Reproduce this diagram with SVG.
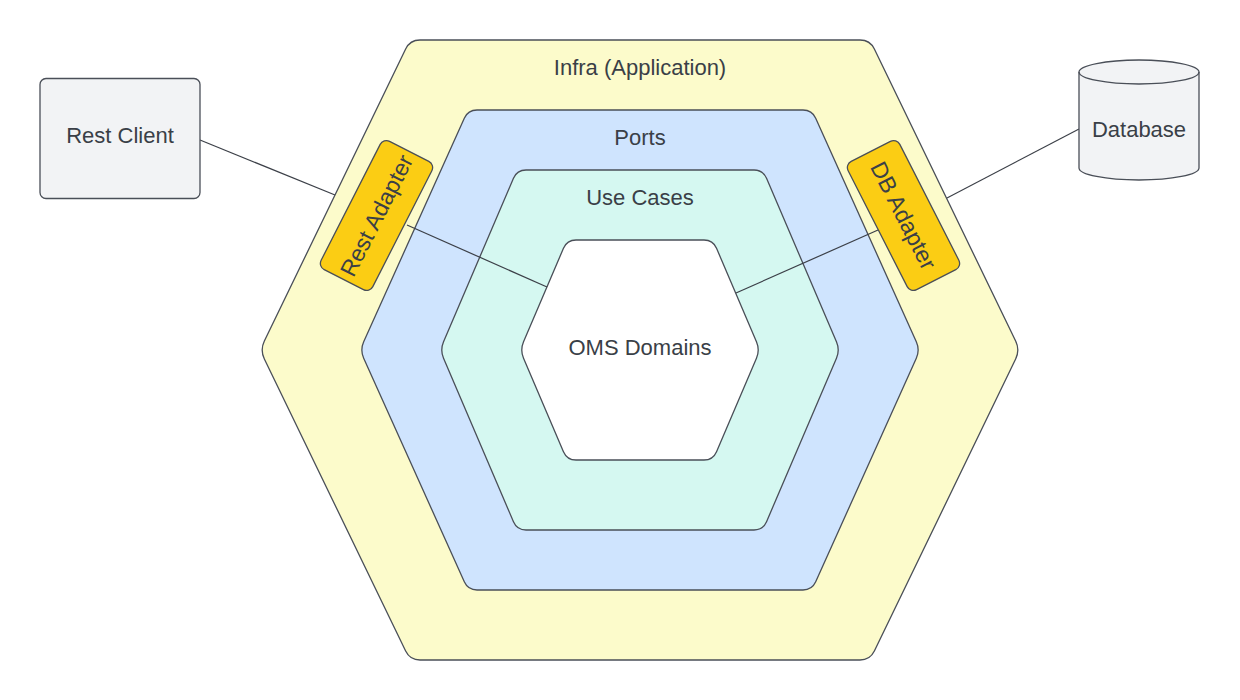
<svg xmlns="http://www.w3.org/2000/svg" width="1240" height="700" viewBox="0 0 1240 700">
<style>
.edge{fill:none;stroke:#3c4048;stroke-width:1.2}
.shape{stroke:#4a4f58;stroke-width:1.3}
.lbl{font-family:"Liberation Sans",Arial,sans-serif;font-size:22px;fill:#3a3f47;text-anchor:middle}
.alb{font-size:23px}
</style>
<rect width="1240" height="700" fill="#ffffff"/>
<g id="infra">
<path class="shape" fill="#fcfbcb" d="M 264.36,341 L 405.64,49 Q 410,40 420,40 L 860,40 Q 870,40 874.36,49 L 1015.64,341 Q 1020,350 1015.64,359 L 874.36,651 Q 870,660 860,660 L 420,660 Q 410,660 405.64,651 L 264.36,359 Q 260,350 264.36,341 Z"/>
<text class="lbl" x="640" y="75">Infra (Application)</text>
</g>
<g id="ports">
<path class="shape" fill="#cfe4fe" d="M 363.69,341.79 L 464.31,118.21 Q 468,110 477,110 L 803,110 Q 812,110 815.69,118.21 L 916.31,341.79 Q 920,350 916.31,358.21 L 815.69,581.79 Q 812,590 803,590 L 477,590 Q 468,590 464.31,581.79 L 363.69,358.21 Q 360,350 363.69,341.79 Z"/>
<text class="lbl" x="640" y="145">Ports</text>
</g>
<g id="usecases">
<path class="shape" fill="#d5f8f1" d="M 443.54,341.73 L 513.46,178.27 Q 517,170 526,170 L 754,170 Q 763,170 766.54,178.27 L 836.46,341.73 Q 840,350 836.46,358.27 L 766.54,521.73 Q 763,530 754,530 L 526,530 Q 517,530 513.46,521.73 L 443.54,358.27 Q 440,350 443.54,341.73 Z"/>
<text class="lbl" x="640" y="205">Use Cases</text>
</g>
<g id="oms">
<path class="shape" fill="#ffffff" d="M 523.54,341.72 L 563.46,248.28 Q 567,240 576,240 L 704,240 Q 713,240 716.54,248.28 L 756.46,341.72 Q 760,350 756.46,358.28 L 716.54,451.72 Q 713,460 704,460 L 576,460 Q 567,460 563.46,451.72 L 523.54,358.28 Q 520,350 523.54,341.72 Z"/>
<text class="lbl" x="640" y="355">OMS Domains</text>
</g>
<g id="connectors">
<line class="edge" x1="200" y1="140" x2="335" y2="195"/>
<line class="edge" x1="407" y1="225" x2="547" y2="287"/>
<line class="edge" x1="1079" y1="129" x2="947" y2="198"/>
<line class="edge" x1="878" y1="230" x2="736" y2="293"/>
</g>
<g id="rest-adapter" transform="translate(376.5,215.5) rotate(-63)">
<rect class="shape" fill="#fbcd14" x="-72" y="-29" width="144" height="58" rx="7"/>
<text class="lbl alb" x="0" y="8">Rest Adapter</text>
</g>
<g id="db-adapter" transform="translate(903.5,215.5) rotate(63)">
<rect class="shape" fill="#fbcd14" x="-72" y="-29" width="144" height="58" rx="7"/>
<text class="lbl alb" x="0" y="8">DB Adapter</text>
</g>
<g id="rest-client">
<rect class="shape" fill="#f2f3f5" x="40" y="78.5" width="160" height="120" rx="6"/>
<text class="lbl" x="120" y="142.5">Rest Client</text>
</g>
<g id="database">
<path class="shape" fill="#f2f3f5" d="M 1079,72 L 1079,168 A 60,12 0 0 0 1199,168 L 1199,72 A 60,12 0 0 0 1079,72 Z"/>
<path class="shape" fill="none" d="M 1079,72 A 60,12 0 0 0 1199,72"/>
<text class="lbl" x="1139" y="137">Database</text>
</g>
</svg>
